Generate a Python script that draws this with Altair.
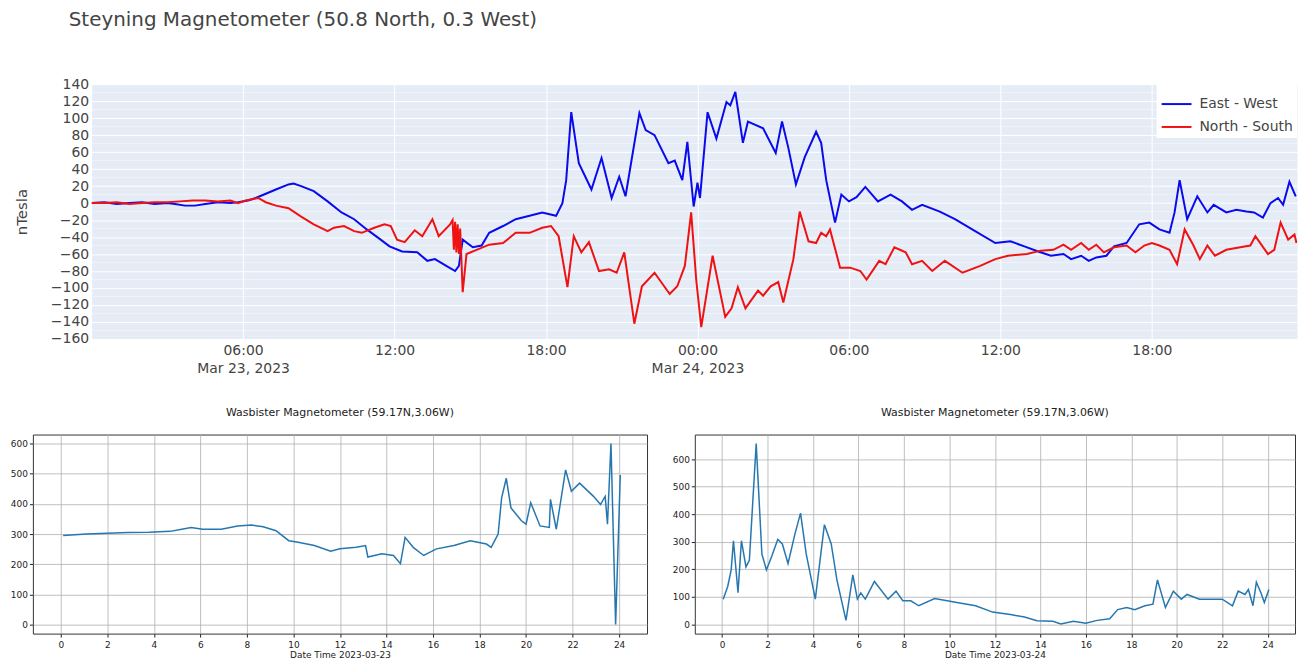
import altair as alt
import pandas as pd

# ---------------- Steyning magnetometer (top panel) ----------------
# hours after 2023-03-23 00:00
ew_hours = [0.0, 0.5, 1.0, 1.5, 2.0, 2.5, 3.0, 3.3, 3.7, 4.1,
            4.5, 5.0, 5.5, 5.8, 6.2, 6.5, 6.9, 7.3, 7.8, 8.0,
            8.3, 8.8, 9.35, 9.9, 10.4, 10.9, 11.45, 11.8, 12.3, 12.9,
            13.3, 13.6, 14.05, 14.4, 14.55, 14.7, 15.1, 15.45, 15.75, 16.3,
            16.8, 17.35, 17.85, 18.4, 18.65, 18.8, 19.0, 19.3, 19.8, 20.2,
            20.6, 20.9, 21.15, 21.7, 21.95, 22.3, 22.85, 23.1, 23.4, 23.6,
            23.85, 24.0, 24.1, 24.4, 24.75, 25.15, 25.3, 25.5, 25.8, 26.0,
            26.6, 27.1, 27.35, 27.6, 27.9, 28.25, 28.7, 28.9, 29.1, 29.45,
            29.7, 30.0, 30.3, 30.65, 31.15, 31.65, 32.1, 32.5, 32.9, 33.6,
            34.2, 35.0, 35.8, 36.4, 36.95, 37.5, 38.0, 38.5, 38.8, 39.2,
            39.5, 39.8, 40.2, 40.5, 41.0, 41.5, 41.9, 42.3, 42.7, 42.9,
            43.1, 43.4, 43.8, 44.2, 44.45, 44.95, 45.35, 45.75, 46.05, 46.4,
            46.7, 47.0, 47.2, 47.45, 47.7]
ew_values = [0, 1, -1, 0, 1, -1, 0, -1, -3, -3,
             -1, 1, 0, 1, 3, 6, 11, 16, 22, 23,
             20, 14, 2, -11, -19, -31, -43, -51, -57, -58,
             -68, -66, -74, -80, -74, -43, -52, -50, -35, -27,
             -19, -15, -11, -15, 0, 27, 107, 47, 16, 53,
             6, 31, 8, 106, 86, 80, 47, 50, 27, 72,
             -4, 24, 6, 107, 76, 119, 115, 131, 71, 96,
             88, 59, 96, 65, 22, 54, 84, 71, 27, -23,
             10, 2, 7, 19, 2, 10, 2, -8, -2, -10,
             -19, -33, -47, -45, -51, -57, -62, -60, -66, -62,
             -68, -64, -62, -51, -47, -25, -23, -31, -35, -11,
             27, -19, 8, -11, -2, -11, -8, -10, -11, -17,
             0, 6, -2, 25, 8]

ns_hours = [0.0, 0.5, 1.0, 1.5, 2.0, 2.5, 3.0, 3.5, 4.0, 4.5,
            5.0, 5.5, 5.8, 6.1, 6.6, 6.9, 7.3, 7.8, 8.3, 8.8,
            9.35, 9.6, 10.0, 10.4, 10.7, 11.2, 11.6, 11.85, 12.1, 12.4,
            12.8, 13.1, 13.5, 13.75, 14.2, 14.3, 14.35, 14.4, 14.45, 14.5,
            14.55, 14.6, 14.7, 14.85, 15.25, 15.75, 16.3, 16.8, 17.35, 17.85,
            18.2, 18.5, 18.85, 19.1, 19.4, 19.7, 20.1, 20.5, 20.8, 21.1,
            21.5, 21.8, 22.3, 22.9, 23.2, 23.5, 23.75, 23.95, 24.15, 24.6,
            25.1, 25.35, 25.6, 25.9, 26.4, 26.6, 26.9, 27.2, 27.4, 27.8,
            28.05, 28.4, 28.7, 28.9, 29.1, 29.25, 29.65, 30.05, 30.45, 30.7,
            31.2, 31.45, 31.8, 32.25, 32.5, 32.9, 33.3, 33.8, 34.5, 35.2,
            35.8, 36.3, 37.05, 37.6, 38.1, 38.5, 38.8, 39.2, 39.5, 39.8,
            40.1, 40.5, 41.0, 41.35, 41.7, 42.0, 42.3, 42.7, 43.0, 43.3,
            43.65, 43.9, 44.2, 44.5, 44.95, 45.5, 45.9, 46.1, 46.6, 46.85,
            47.1, 47.4, 47.65, 47.73]
ns_values = [0, 0, 1, -1, 0, 1, 1, 2, 3, 3,
             2, 3, 0, 3, 6, 1, -3, -6, -16, -25,
             -33, -29, -27, -33, -35, -29, -25, -27, -43, -46,
             -32, -39, -19, -39, -25, -20, -55, -22, -58, -25,
             -60, -30, -105, -60, -55, -49, -47, -35, -35, -29,
             -27, -39, -99, -39, -58, -46, -80, -78, -82, -58,
             -142, -98, -82, -107, -98, -74, -11, -90, -146, -62,
             -134, -124, -99, -124, -103, -109, -98, -93, -117, -66,
             -10, -45, -47, -35, -39, -31, -76, -76, -80, -90,
             -68, -72, -52, -58, -72, -68, -80, -68, -82, -74,
             -66, -62, -60, -56, -55, -49, -55, -47, -55, -49,
             -58, -52, -50, -58, -50, -47, -50, -55, -72, -31,
             -50, -66, -50, -62, -55, -52, -50, -39, -60, -55,
             -23, -43, -37, -47]

series_names = ["East - West", "North - South"]
series_colors = ["#0a0aee", "#f01212"]
top_y_ticks = list(range(-160, 141, 20))
top_y_minor = list(range(-150, 140, 20))
top_x_tick_hours = [6, 12, 18, 24, 30, 36, 42]

# ---------------- Wasbister magnetometer (bottom panels) ----------------
w23_hours = [0.1, 1.1, 2.0, 2.9, 3.8, 4.7, 5.2, 5.6, 6.1, 6.9,
             7.6, 8.2, 8.7, 9.25, 9.8, 10.2, 10.9, 11.6, 12.0, 12.7,
             13.1, 13.2, 13.8, 14.3, 14.6, 14.8, 15.15, 15.6, 16.15, 16.9,
             17.6, 18.3, 18.5, 18.8, 18.95, 19.15, 19.35, 19.8, 20.0, 20.2,
             20.6, 21.0, 21.05, 21.3, 21.7, 21.95, 22.3, 22.9, 23.2, 23.4,
             23.5, 23.65, 23.85, 24.05]
w23_values = [295, 300, 303, 305, 306, 309, 316, 322, 316, 316,
              327, 330, 324, 311, 278, 273, 262, 243, 251, 256,
              262, 224, 235, 229, 202, 289, 256, 229, 251, 262,
              278, 267, 256, 300, 420, 485, 387, 344, 333, 404,
              327, 322, 415, 316, 513, 442, 469, 425, 398, 425,
              333, 600, 0, 496]

w24_hours = [0.05, 0.25, 0.4, 0.5, 0.7, 0.85, 1.05, 1.2, 1.5, 1.75,
             1.95, 2.2, 2.45, 2.65, 2.9, 3.2, 3.45, 3.7, 4.1, 4.5,
             4.8, 5.05, 5.45, 5.75, 5.95, 6.1, 6.3, 6.7, 7.3, 7.65,
             7.95, 8.3, 8.65, 9.35, 9.9, 10.45, 11.15, 11.9, 12.75, 13.3,
             13.85, 14.55, 14.9, 15.45, 16.0, 16.5, 17.05, 17.4, 17.8, 18.15,
             18.6, 18.95, 19.15, 19.5, 19.85, 20.2, 20.45, 21.0, 21.7, 22.0,
             22.45, 22.7, 23.0, 23.15, 23.35, 23.5, 23.7, 23.85, 24.05]
w24_values = [92, 139, 198, 304, 115, 304, 209, 233, 656, 256,
              198, 251, 309, 292, 221, 327, 404, 256, 92, 362,
              292, 162, 15, 180, 92, 115, 92, 156, 92, 121,
              86, 86, 68, 94, 86, 78, 68, 45, 35, 27,
              14, 12, 2, 12, 5, 15, 21, 54, 62, 54,
              68, 74, 162, 62, 121, 92, 109, 92, 92, 92,
              68, 121, 109, 127, 68, 153, 115, 80, 127]

bottom_x_ticks = list(range(0, 25, 2))
bottom_y_ticks = list(range(0, 601, 100))

FONT = "DejaVu Sans"
TXT = "#444444"
base_day = pd.Timestamp("2023-03-23 00:00:00")


def iso(hours):
    return [(base_day + pd.Timedelta(hours=h)).strftime("%Y-%m-%dT%H:%M:%S") for h in hours]


def dt(h):
    ts = base_day + pd.Timedelta(hours=h)
    return alt.DateTime(year=ts.year, month=ts.month, date=ts.day,
                        hours=ts.hour, minutes=ts.minute)


top_df = pd.concat([
    pd.DataFrame({"time": iso(ew_hours), "value": ew_values, "series": series_names[0]}),
    pd.DataFrame({"time": iso(ns_hours), "value": ns_values, "series": series_names[1]}),
], ignore_index=True)
minor_df = pd.DataFrame({"g": top_y_minor})

x_top = alt.X(
    "time:T",
    scale=alt.Scale(domain=[dt(0), dt(47.75)]),
    axis=alt.Axis(
        values=[dt(h) for h in top_x_tick_hours],
        labelExpr="(hours(datum.value) == 0 || (date(datum.value) == 23 && hours(datum.value) == 6)) ? "
                  "[timeFormat(datum.value, '%H:%M'), timeFormat(datum.value, '%b %d, %Y')] : "
                  "timeFormat(datum.value, '%H:%M')",
        title=None, grid=True, gridColor="white", gridWidth=1, ticks=False, domain=False,
        labelFont=FONT, labelFontSize=14, labelColor=TXT, labelPadding=5, labelLineHeight=18,
    ),
)
y_axis_top = alt.Axis(
    values=top_y_ticks, title=None, grid=True, gridColor="white", gridWidth=1,
    ticks=False, domain=False, labelFont=FONT, labelFontSize=14, labelColor=TXT,
    labelPadding=3, minExtent=40, maxExtent=40,
)
y_scale_top = alt.Scale(domain=[-160, 140], nice=False, zero=False)

minor = alt.Chart(minor_df).mark_rule(color="white", strokeWidth=0.7, opacity=0.6).encode(
    y=alt.Y("g:Q", scale=y_scale_top, axis=y_axis_top)
)
lines = alt.Chart(top_df).mark_line(strokeWidth=2, clip=True).encode(
    x=x_top,
    y=alt.Y("value:Q", scale=y_scale_top, axis=y_axis_top),
    color=alt.Color(
        "series:N",
        scale=alt.Scale(domain=series_names, range=series_colors),
        legend=alt.Legend(
            title=None, orient="top-right", offset=0, fillColor="white", padding=4,
            symbolType="stroke", symbolStrokeWidth=2, symbolSize=900, rowPadding=-6,
            labelFont=FONT, labelFontSize=14, labelColor=TXT, labelOffset=7,
        ),
    ),
)
top = alt.layer(minor, lines).properties(
    width=1211, height=256,
    title=alt.TitleParams(
        text="Steyning Magnetometer (50.8 North, 0.3 West)", anchor="start", frame="group",
        dx=-23, offset=47, font=FONT, fontSize=20,
        fontWeight="normal", color=TXT,
    ),
    view=alt.ViewBackground(fill="#e5ecf6", stroke="transparent"),
)

spacer = alt.Chart(pd.DataFrame({"v": [0]})).mark_point(opacity=0).encode(
    y=alt.Y("v:Q", axis=alt.Axis(
        title="nTesla", labels=False, ticks=False, domain=False, grid=False,
        minExtent=0, maxExtent=0, titlePadding=3, titleFont=FONT, titleFontSize=15,
        titleFontWeight="normal", titleColor=TXT,
    ))
).properties(width=1, height=256, view=alt.ViewBackground(fill="transparent", stroke="transparent"))

top_row = alt.hconcat(spacer, top, spacing=13).resolve_legend(color="independent")


def wasbister(hours, values, day, width, ydomain):
    df = pd.DataFrame({"hour": hours, "value": values})
    return alt.Chart(df).mark_line(color="#2677b0", strokeWidth=1.5).encode(
        x=alt.X("hour:Q", scale=alt.Scale(domain=[-1.2, 25.2], nice=False, zero=False),
                axis=alt.Axis(values=bottom_x_ticks, format="d", title=f"Date Time {day}",
                              grid=True, gridColor="#b0b0b0", gridWidth=0.8, domain=False,
                              tickSize=3.5, tickColor="#222", labelPadding=3,
                              labelFont=FONT, labelFontSize=9, labelColor="#222",
                              titleFont=FONT, titleFontSize=9, titleFontWeight="normal",
                              titleColor="#222", titlePadding=2)),
        y=alt.Y("value:Q", scale=alt.Scale(domain=ydomain, nice=False, zero=False),
                axis=alt.Axis(values=bottom_y_ticks, format="d", title=None,
                              grid=True, gridColor="#b0b0b0", gridWidth=0.8, domain=False,
                              tickSize=3.5, tickColor="#222", labelPadding=2,
                              labelFont=FONT, labelFontSize=9, labelColor="#222",
                              minExtent=24, maxExtent=24)),
    ).properties(
        width=width, height=200,
        title=alt.TitleParams(text="Wasbister Magnetometer (59.17N,3.06W)", font=FONT,
                              fontSize=11, fontWeight="normal", color="#222", offset=17),
        view=alt.ViewBackground(fill="white", stroke="#333333", strokeWidth=1),
    )


bl = wasbister(w23_hours, w23_values, "2023-03-23", 617, [-30, 630])
br = wasbister(w24_hours, w24_values, "2023-03-24", 603, [-33, 689])
bottom_row = alt.hconcat(bl, br, spacing=22)

chart = alt.vconcat(top_row, bottom_row, spacing=29).resolve_legend(color="independent").properties(
    padding={"left": 0, "top": 0, "right": 0, "bottom": 0},
    background="white",
)

chart.save("out.html", embed_options={"renderer": "svg", "actions": False})
